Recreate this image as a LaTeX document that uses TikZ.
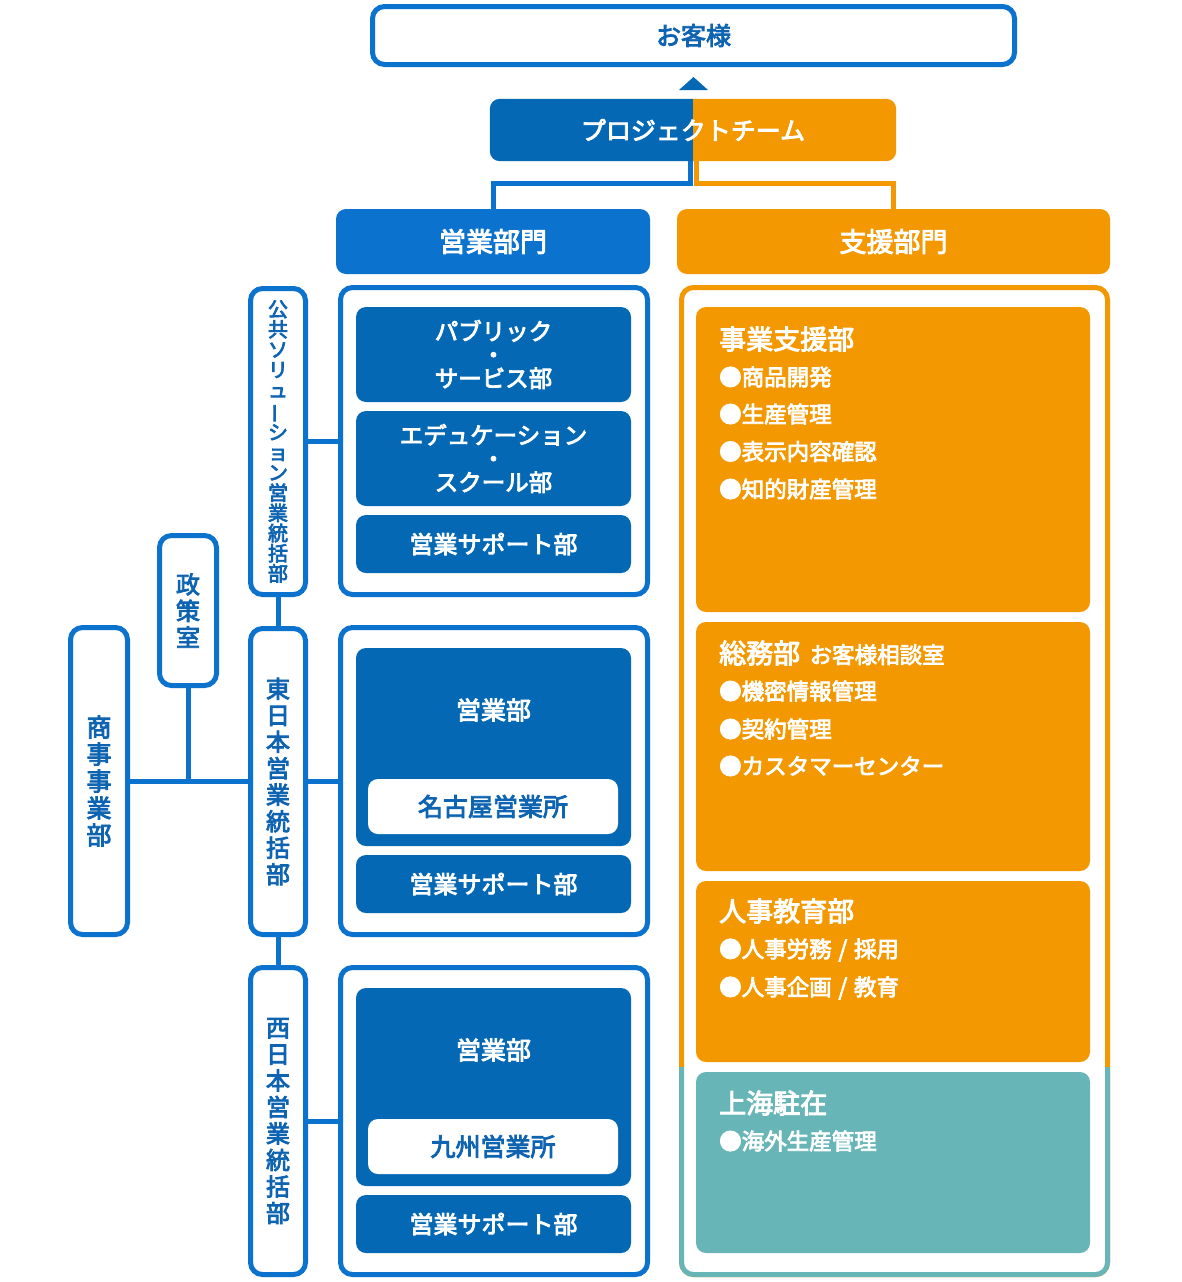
\documentclass[tikz,border=0pt]{standalone}
\usepackage{fontspec}
\setmainfont{Noto Sans CJK JP}
\newfontfamily\medfont{Noto Sans CJK JP}[FakeBold=3.5]
\usepackage{graphicx}
\definecolor{lblue}{HTML}{0B72CE}
\definecolor{dblue}{HTML}{0468B4}
\definecolor{tblue}{HTML}{0F64B2}
\definecolor{org}{HTML}{F39800}
\definecolor{teal}{HTML}{67B5B7}
\newcommand{\vbar}{\rotatebox[origin=c]{90}{ー}}
\newcommand{\myslash}{\hspace{0.3em}/\hspace{0.3em}}
\tikzset{
  outline/.style={draw=lblue, line width=5pt, fill=white, rounded corners=12pt, inner sep=0pt},
  vlabel/.style={outline, text=tblue, align=center, font=\medfont\fontsize{24}{26.5}\selectfont},
  darkbox/.style={fill=dblue, rounded corners=10pt, text=white, align=center, inner sep=0pt, minimum width=275pt, font=\medfont\fontsize{23.5}{23.5}\selectfont},
  whitebox/.style={fill=white, rounded corners=10pt, text=tblue, inner sep=0pt, minimum width=250pt, minimum height=55pt, font=\medfont\fontsize{25}{28}\selectfont},
  headbox/.style={rounded corners=10pt, text=white, inner sep=0pt, minimum height=65pt, font=\medfont\fontsize{27}{30}\selectfont},
  sbox/.style={rounded corners=10pt, inner sep=0pt, minimum width=394pt},
  conn/.style={draw=lblue, line width=5pt},
  head/.style={anchor=west, inner sep=0pt, text=white, font=\medfont\fontsize{27}{30}\selectfont},
  item/.style={anchor=west, inner sep=0pt, text=white, font=\medfont\fontsize{22.5}{26}\selectfont}
}
\begin{document}
\begin{tikzpicture}[x=1pt,y=-1pt]
\useasboundingbox (0,0) rectangle (1182,1282);

% customer
\node[outline, minimum width=642pt, minimum height=58pt, text=tblue, font=\medfont\fontsize{25}{28}\selectfont] (kyaku) at (693.5,35.5) {お客様};
\fill[dblue] (679,90) -- (693.5,77) -- (708,90) -- cycle;

% project team
\node[headbox, minimum width=406pt, minimum height=62pt] (team) at (693,130) {};
\begin{scope}
  \clip (480,90) rectangle (693,170);
  \fill[dblue, rounded corners=10pt] (team.north west) rectangle (team.south east);
\end{scope}
\begin{scope}
  \clip (693,90) rectangle (910,170);
  \fill[org, rounded corners=10pt] (team.north west) rectangle (team.south east);
\end{scope}
\node[text=white, font=\medfont\fontsize{25}{28}\selectfont] (teamlabel) at (team.center) {プロジェクトチーム};

% divisions
\node[headbox, fill=lblue, minimum width=314pt] (eibu) at (493,241.5) {営業部門};
\node[headbox, fill=org, minimum width=433pt] (shibu) at (893.5,241.5) {支援部門};
\draw[conn, draw=lblue] ([xshift=-3pt]team.south) -- ++(0,22) -| (eibu.north);
\draw[conn, draw=org] ([xshift=3pt]team.south) -- ++(0,22) -| ([xshift=-0.5pt]shibu.north);

% sales outer boxes
\node[outline, minimum width=307pt, minimum height=307pt] (box1) at (494,441) {};
\node[outline, minimum width=307pt, minimum height=307pt] (box2) at (494,781) {};
\node[outline, minimum width=307pt, minimum height=307pt] (box3) at (494,1121) {};

% box1 contents
\node[darkbox, minimum height=95pt] (pub) at (493.5,354.5) {パブリック\\・\\サービス部};
\node[darkbox, minimum height=95pt] (edu) at (493.5,458.5) {エデュケーション\\・\\スクール部};
\node[darkbox, minimum height=58pt, font=\medfont\fontsize{24}{26}\selectfont] (sup1) at (493.5,544) {営業サポート部};

% box2 contents
\node[darkbox, minimum height=198pt] (eig2) at (493.5,747) {};
\node[text=white, font=\medfont\fontsize{25}{28}\selectfont] (eig2t) at (493.5,710) {営業部};
\node[whitebox] (nagoya) at (493,806.5) {名古屋営業所};
\node[darkbox, minimum height=58pt, font=\medfont\fontsize{24}{26}\selectfont] (sup2) at (493.5,884) {営業サポート部};

% box3 contents
\node[darkbox, minimum height=198pt] (eig3) at (493.5,1087) {};
\node[text=white, font=\medfont\fontsize{25}{28}\selectfont] (eig3t) at (493.5,1050) {営業部};
\node[whitebox] (kyushu) at (493,1146.5) {九州営業所};
\node[darkbox, minimum height=58pt, font=\medfont\fontsize{24}{26}\selectfont] (sup3) at (493.5,1224) {営業サポート部};

% vertical labels
\node[vlabel, minimum width=55pt, minimum height=306pt, font=\medfont\fontsize{20}{20.2}\selectfont] (kokyo) at (278,441.5)
  {公\\共\\ソ\\リ\\ュ\\\vbar\\シ\\ョ\\ン\\営\\業\\統\\括\\部};
\node[vlabel, minimum width=55pt, minimum height=306pt] (higashi) at (278,781.5) {東\\日\\本\\営\\業\\統\\括\\部};
\node[vlabel, minimum width=55pt, minimum height=307pt] (nishi) at (278,1121) {西\\日\\本\\営\\業\\統\\括\\部};
\node[vlabel, minimum width=57pt, minimum height=150pt] (seisaku) at (188,610.5) {政\\策\\室};
\node[vlabel, minimum width=57pt, minimum height=307pt, font=\medfont\fontsize{25}{27}\selectfont] (shoji) at (99,781) {商\\事\\事\\業\\部};

% sales connectors
\draw[conn] (kokyo.east) -- (kokyo.east -| box1.west);
\draw[conn] (higashi.east) -- (higashi.east -| box2.west);
\draw[conn] (nishi.east) -- (nishi.east -| box3.west);
\draw[conn] (kokyo.south) -- (higashi.north);
\draw[conn] (higashi.south) -- (nishi.north);
\draw[conn] (shoji.east) -- (shoji.east -| higashi.west);
\draw[conn] (seisaku.south) -- (seisaku.south |- shoji.east);

% support outer
\draw[draw=org, line width=5pt, rounded corners=12pt] (681.5,287.5) rectangle (1107.5,1274.5);
\begin{scope}
  \clip (670,1067) rectangle (1120,1282);
  \draw[draw=teal, line width=5pt, fill=white, rounded corners=12pt] (681.5,287.5) rectangle (1107.5,1274.5);
\end{scope}

% support inner boxes
\node[sbox, fill=org, minimum height=305pt] (jigyo) at (893,459.5) {};
\node[sbox, fill=org, minimum height=249pt] (somu) at (893,746.5) {};
\node[sbox, fill=org, minimum height=181pt] (jinji) at (893,971.5) {};
\node[sbox, fill=teal, minimum height=181pt] (shanghai) at (893,1162.5) {};

\node[head] (h1) at (719,339) {事業支援部};
\node[item] (i11) at (719,377) {●商品開発};
\node[item] (i12) at (719,414) {●生産管理};
\node[item] (i13) at (719,451.5) {●表示内容確認};
\node[item] (i14) at (719,489) {●知的財産管理};

\node[head] (h2) at (719,653) {総務部\hspace{0.35em}{\fontsize{22.5}{26}\selectfont お客様相談室}};
\node[item] (i21) at (719,691) {●機密情報管理};
\node[item] (i22) at (719,729) {●契約管理};
\node[item] (i23) at (719,766) {●カスタマーセンター};

\node[head] (h3) at (719,911) {人事教育部};
\node[item] (i31) at (719,950) {●人事労務\myslash 採用};
\node[item] (i32) at (719,988) {●人事企画\myslash 教育};

\node[head] (h4) at (719,1103) {上海駐在};
\node[item] (i41) at (719,1141) {●海外生産管理};
\end{tikzpicture}
\end{document}
